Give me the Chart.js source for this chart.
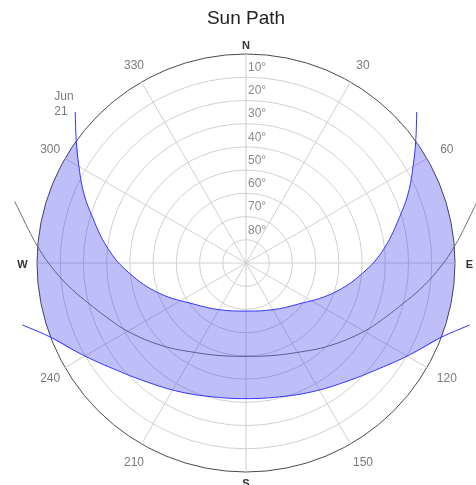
<!DOCTYPE html>
<html>
<head>
<meta charset="utf-8">
<script src="https://cdn.jsdelivr.net/npm/chart.js@4/dist/chart.umd.min.js"></script>
<style>
  html, body { margin: 0; padding: 0; background: #fff; }
  canvas { display: block; }
</style>
</head>
<body>
<canvas id="sunpath" width="476" height="485"></canvas>
<script>
// Compass directions around the horizon, every 30 degrees clockwise from north
const compassLabels = ['N', '30', '60', 'E', '120', '150', 'S', '210', '240', 'W', '300', '330'];
// Altitude rings (degrees above the horizon)
const altitudeTicks = [10, 20, 30, 40, 50, 60, 70, 80];

// Sun positions: azimuth (deg clockwise from north) and altitude (deg)
const junAzimuth  = [48.5, 54.3, 59.6, 65.8, 72.0, 84.0, 95.0, 109.3, 128.5, 150.0, 180.0, 210.0, 231.5, 250.7, 265.0, 276.0, 288.0, 294.2, 300.4, 305.7, 311.5];
const junAltitude = [-8.2, 0, 6.5, 13.0, 19.6, 30.2, 39.6, 50.5, 61.5, 66.8, 69.3, 66.8, 61.5, 50.5, 39.6, 30.2, 19.6, 13.0, 6.5, 0, -8.2];

const decAzimuth  = [105.5, 110.8, 119.4, 128.4, 139.9, 152.6, 166.0, 180.0, 194.0, 207.4, 220.1, 231.6, 240.6, 249.2, 254.5];
const decAltitude = [-9.9, 0, 9.3, 16.8, 23.2, 27.6, 30.6, 31.6, 30.6, 27.6, 23.2, 16.8, 9.3, 0, -9.9];

const midAzimuth  = [75.1, 85.5, 92.5, 98.9, 104.5, 111.0, 120.5, 135.0, 150.5, 165.0, 180.0, 195.0, 209.5, 225.0, 239.5, 249.0, 255.5, 261.1, 267.5, 274.5, 284.9];
const midAltitude = [-13.1, 0, 7.7, 14.5, 20.2, 25.4, 31.5, 39.5, 45.7, 48.7, 49.8, 48.7, 45.7, 39.5, 31.5, 25.4, 20.2, 14.5, 7.7, 0, -13.1];

const FONT = '"Liberation Sans", Arial, sans-serif';

// Polar projection: zenith at the centre, horizon at 90 units out
function toPoint(az, alt) {
  const z = 90 - alt;
  const a = az * Math.PI / 180;
  return { x: z * Math.sin(a), y: z * Math.cos(a) };
}
function series(azs, alts) {
  return azs.map((az, i) => toPoint(az, alts[i]));
}
function aboveHorizon(azs, alts) {
  return azs.map((az, i) => [az, alts[i]]).filter(p => p[1] >= 0);
}
// Interior points of the horizon circle between two azimuths
function horizonArc(fromAz, toAz) {
  const pts = [];
  const n = Math.max(2, Math.ceil(Math.abs(toAz - fromAz) / 2));
  for (let i = 1; i < n; i++) pts.push(toPoint(fromAz + (toAz - fromAz) * i / n, 0));
  return pts;
}

// Band between the June and December paths, bounded by the horizon
const junUp = aboveHorizon(junAzimuth, junAltitude);
const decUp = aboveHorizon(decAzimuth, decAltitude);
const band = [
  ...junUp.map(p => toPoint(p[0], p[1])),
  ...horizonArc(junUp[junUp.length - 1][0], decUp[decUp.length - 1][0]),
  ...decUp.slice().reverse().map(p => toPoint(p[0], p[1])),
  ...horizonArc(decUp[0][0], junUp[0][0])
];

const TENSION = 0.4;
const lineStyle = {
  showLine: true, pointRadius: 0, pointHoverRadius: 0, borderWidth: 1,
  tension: TENSION, fill: false, clip: false
};

// Compass letters, azimuth numbers, altitude ticks and the date tag
const labelPlugin = {
  id: 'sunLabels',
  afterDraw(chart) {
    const ctx = chart.ctx;
    const r = chart.scales.r;
    ctx.save();
    ctx.textAlign = 'center';
    ctx.textBaseline = 'middle';
    compassLabels.forEach((lab, i) => {
      const letter = isNaN(Number(lab));
      const s = Math.abs(Math.sin(r.getIndexAngle(i)));
      let p;
      if (letter) {
        p = r.getPointPosition(i, r.drawingArea + 10 + 4.5 * s);
        p.y += 2;
        ctx.font = 'bold 11px ' + FONT;
        ctx.fillStyle = '#333';
      } else {
        p = r.getPointPosition(i, r.drawingArea + 20);
        p.x += 2.5;
        p.y += 1.5;
        ctx.font = '12px ' + FONT;
        ctx.fillStyle = '#7a7a7a';
      }
      ctx.fillText(lab, p.x, p.y);
    });
    ctx.textAlign = 'left';
    ctx.font = '12px ' + FONT;
    ctx.fillStyle = '#8a8a8a';
    altitudeTicks.forEach(v => {
      const d = r.getDistanceFromCenterForValue(90 - v);
      ctx.fillText(v + '°', r.xCenter + 2, r.yCenter - d - 9.5);
    });
    // date tag next to the end of the June path
    const last = series(junAzimuth, junAltitude).slice(-1)[0];
    const px = chart.scales.x.getPixelForValue(last.x);
    const py = chart.scales.y.getPixelForValue(last.y);
    ctx.fillStyle = '#7a7a7a';
    ctx.fillText('Jun', px - 21, py - 15);
    ctx.fillText('21', px - 21, py);
    ctx.restore();
  }
};

Chart.defaults.font.family = FONT;

new Chart(document.getElementById('sunpath'), {
  type: 'scatter',
  data: {
    labels: compassLabels,
    datasets: [
      { label: 'Jun 21', data: series(junAzimuth, junAltitude), borderColor: '#3333ff', ...lineStyle },
      { label: 'Dec', data: series(decAzimuth, decAltitude), borderColor: '#3333ff', ...lineStyle },
      {
        label: 'band', data: band, showLine: true, borderWidth: 0, pointRadius: 0, pointHoverRadius: 0,
        tension: TENSION, backgroundColor: 'rgba(40,40,235,0.3)', fill: 'shape'
      },
      { label: 'Equinox', data: series(midAzimuth, midAltitude), borderColor: '#707070', ...lineStyle }
    ]
  },
  options: {
    responsive: false,
    animation: false,
    layout: { padding: { left: 37, right: 21, top: 0, bottom: 13 } },
    plugins: {
      legend: { display: false },
      tooltip: { enabled: false },
      title: {
        display: true, text: 'Sun Path', color: '#222',
        font: { size: 19, weight: 'normal', lineHeight: '22px' },
        padding: { top: 8, bottom: 24 }
      }
    },
    scales: {
      x: { type: 'linear', min: -90, max: 90, display: false },
      y: { type: 'linear', min: -90, max: 90, display: false },
      r: {
        type: 'radialLinear',
        min: 0, max: 90,
        ticks: { display: false, stepSize: 10 },
        pointLabels: { display: false },
        grid: {
          circular: true,
          color: c => (c.tick && c.tick.value === 90 ? '#4a4a4a' : '#d0d0d0'),
          lineWidth: 1
        },
        angleLines: { display: true, color: '#d0d0d0', lineWidth: 1 }
      }
    }
  },
  plugins: [labelPlugin]
});
</script>
</body>
</html>
